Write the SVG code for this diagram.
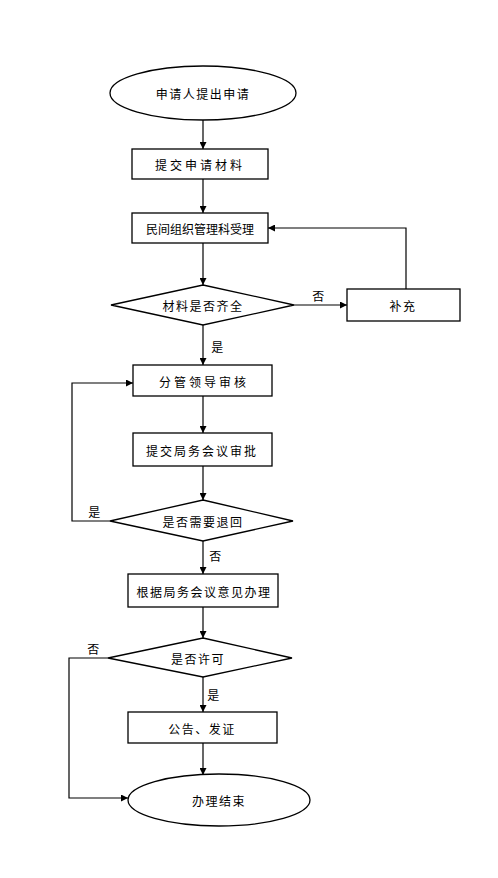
<svg xmlns="http://www.w3.org/2000/svg" width="498" height="878" viewBox="0 0 498 878">
<style>
.s{fill:#fff;stroke:#000;stroke-width:1.3}
.c{fill:none;stroke:#000;stroke-width:1.2}
text{font-family:"Noto Sans CJK SC","Noto Sans CJK TC",sans-serif;font-size:12px;fill:#000;text-anchor:middle;dominant-baseline:central;letter-spacing:1.5px}
.l{letter-spacing:0}
</style>
<defs>
<marker id="a" viewBox="0 0 10 10" refX="10" refY="5" markerWidth="7" markerHeight="7" markerUnits="userSpaceOnUse" orient="auto">
<path d="M0,0 L10,5 L0,10 z" fill="#000"/>
</marker>
</defs>
<rect width="498" height="878" fill="#fff"/>
<g id="connectors">
<path class="c" d="M203,120 V149" marker-end="url(#a)"/>
<path class="c" d="M203,179 V213" marker-end="url(#a)"/>
<path class="c" d="M203,243 V285" marker-end="url(#a)"/>
<path class="c" d="M294,305 H347" marker-end="url(#a)"/>
<path class="c" d="M406,289 V228 H268" marker-end="url(#a)"/>
<path class="c" d="M203,325 V365" marker-end="url(#a)"/>
<path class="c" d="M203,396 V433" marker-end="url(#a)"/>
<path class="c" d="M203,466 V500" marker-end="url(#a)"/>
<path class="c" d="M110,521 H72 V383 H133" marker-end="url(#a)"/>
<path class="c" d="M203,541 V574" marker-end="url(#a)"/>
<path class="c" d="M203,607 V638" marker-end="url(#a)"/>
<path class="c" d="M203,677 V712" marker-end="url(#a)"/>
<path class="c" d="M203,743 V775" marker-end="url(#a)"/>
<path class="c" d="M108,658 H69 V798 H128" marker-end="url(#a)"/>
<text x="319" y="295">否</text>
<text x="218" y="346">是</text>
<text x="95" y="511">是</text>
<text x="216" y="555">否</text>
<text x="94" y="648">否</text>
<text x="214" y="694">是</text>
</g>
<g id="start"><ellipse class="s" cx="203" cy="93" rx="93" ry="27"/><text x="203" y="93">申请人提出申请</text></g>
<g id="submit"><rect class="s" x="132" y="149" width="136" height="30"/><text x="200" y="164" style="letter-spacing:3px">提交申请材料</text></g>
<g id="accept"><rect class="s" x="132" y="213" width="136" height="30"/><text class="l" x="200" y="228">民间组织管理科受理</text></g>
<g id="check"><path class="s" d="M203,285 L294,305 L203,325 L111,305 Z"/><text x="203" y="305">材料是否齐全</text></g>
<g id="supplement"><rect class="s" x="347" y="289" width="113" height="32"/><text x="403" y="305">补充</text></g>
<g id="review"><rect class="s" x="133" y="365" width="139" height="31"/><text x="204" y="381" style="letter-spacing:3px">分管领导审核</text></g>
<g id="meeting"><rect class="s" x="133" y="433" width="139" height="33"/><text x="202" y="450" style="letter-spacing:2px">提交局务会议审批</text></g>
<g id="return"><path class="s" d="M203,500 L293,521 L203,541 L110,521 Z"/><text x="203" y="521">是否需要退回</text></g>
<g id="handle"><rect class="s" x="128" y="574" width="150" height="33"/><text x="204" y="591">根据局务会议意见办理</text></g>
<g id="permit"><path class="s" d="M203,638 L292,658 L203,677 L108,658 Z"/><text x="198" y="658">是否许可</text></g>
<g id="notice"><rect class="s" x="128" y="712" width="149" height="31"/><text x="202" y="728">公告、发证</text></g>
<g id="end"><ellipse class="s" cx="219" cy="800" rx="91" ry="26"/><text x="219" y="800">办理结束</text></g>
</svg>
